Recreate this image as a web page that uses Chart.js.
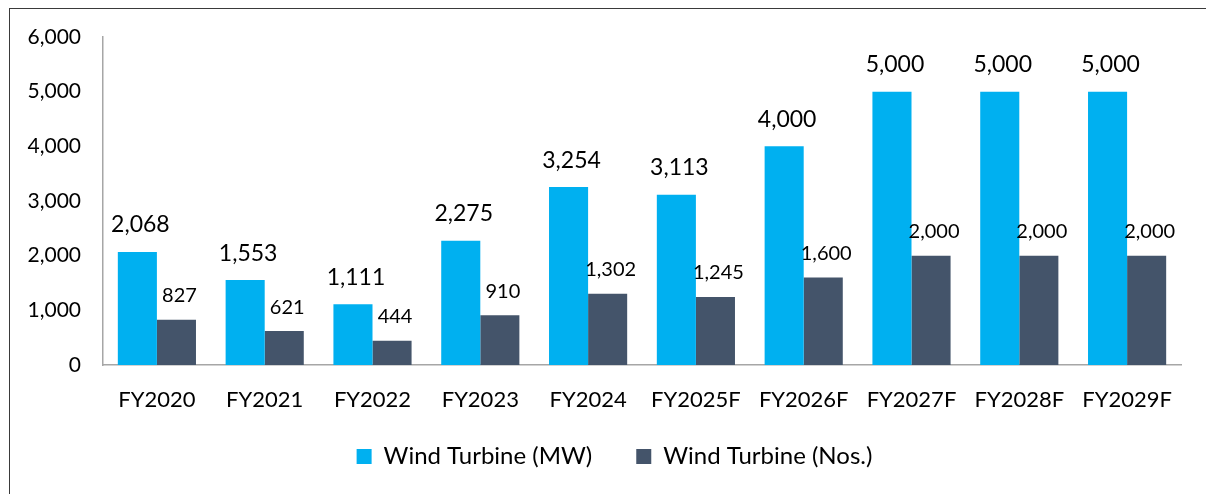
<!DOCTYPE html>
<html>
<head>
<meta charset="utf-8">
<script src="https://cdn.jsdelivr.net/npm/chart.js@4/dist/chart.umd.min.js"></script>
<style>
  html, body { margin: 0; padding: 0; background: #ffffff; }
  #frame {
    position: absolute; left: 9px; top: 8px; width: 1210px; height: 500px;
    border-left: 1.5px solid #3a3a3a; border-top: 1.5px solid #3a3a3a;
    box-sizing: border-box;
  }
  #wrap { position: absolute; left: 0; top: 0; width: 1206px; height: 494px; }
</style>
</head>
<body>
<div id="frame"></div>
<div id="wrap"><canvas id="chart" width="1206" height="494"></canvas></div>
<script>
// Fiscal years (F = forecast)
const categories = ['FY2020', 'FY2021', 'FY2022', 'FY2023', 'FY2024', 'FY2025F', 'FY2026F', 'FY2027F', 'FY2028F', 'FY2029F'];
// Installed capacity, MW
const capacityMW = [2068, 1553, 1111, 2275, 3254, 3113, 4000, 5000, 5000, 5000];
// Number of turbines
const turbineCount = [827, 621, 444, 910, 1302, 1245, 1600, 2000, 2000, 2000];
const seriesNames = ['Wind Turbine (MW)', 'Wind Turbine (Nos.)'];
const yTicks = [0, 1000, 2000, 3000, 4000, 5000, 6000];

const FONT = 'Lato, "Open Sans", sans-serif';
const fmt = v => v.toLocaleString('en-US');

// Value labels above each bar
const barValueLabels = {
  id: 'barValueLabels',
  afterDatasetsDraw(chart) {
    const ctx = chart.ctx;
    ctx.save();
    ctx.textAlign = 'center';
    ctx.textBaseline = 'middle';
    ctx.fillStyle = '#000000';
    chart.data.datasets.forEach((ds, di) => {
      const meta = chart.getDatasetMeta(di);
      const size = di === 0 ? 23 : 20;
      const lift = di === 0 ? 27 : 24;
      ctx.font = size + 'px ' + FONT;
      meta.data.forEach((bar, i) => {
        ctx.fillText(fmt(ds.data[i]), bar.x + 3, bar.y - lift);
      });
    });
    ctx.restore();
  }
};

// Nudge the legend row up under the axis labels and a little right
const legendPlacement = {
  id: 'legendPlacement',
  afterLayout(chart) {
    const lg = chart.legend;
    if (!lg) return;
    const dy = -14.5, dx = 24;
    lg.top += dy; lg.bottom += dy;
    lg.left += dx; lg.right += dx;
  }
};

new Chart(document.getElementById('chart'), {
  type: 'bar',
  data: {
    labels: categories,
    datasets: [
      { label: seriesNames[0], data: capacityMW, backgroundColor: '#00B0F0' },
      { label: seriesNames[1], data: turbineCount, backgroundColor: '#44546A' }
    ]
  },
  options: {
    responsive: false,
    animation: false,
    devicePixelRatio: 1,
    layout: { padding: { left: 0, right: 25, top: 37, bottom: 1 } },
    datasets: { bar: { categoryPercentage: 0.725, barPercentage: 1.0 } },
    scales: {
      x: {
        grid: { display: false, drawTicks: false },
        border: { display: true, color: '#A6A6A6', width: 1.5 },
        ticks: { color: '#000000', font: { family: FONT, size: 22 }, padding: 22, maxRotation: 0, autoSkip: false },
        afterFit(scale) { scale.height = 50; }
      },
      y: {
        min: 0, max: 6000,
        afterBuildTicks(scale) { scale.ticks = yTicks.map(v => ({ value: v })); },
        grid: { display: false, drawTicks: false },
        border: { display: true, color: '#A6A6A6', width: 1.5 },
        ticks: { color: '#000000', font: { family: FONT, size: 21 }, padding: 22, callback: v => fmt(v) },
        afterFit(scale) { scale.width = 103; }
      }
    },
    plugins: {
      legend: {
        position: 'bottom',
        labels: {
          color: '#000000',
          font: { family: FONT, size: 24 },
          boxWidth: 15, boxHeight: 15, padding: 44
        }
      },
      tooltip: { enabled: false }
    }
  },
  plugins: [barValueLabels, legendPlacement]
});
</script>
</body>
</html>
